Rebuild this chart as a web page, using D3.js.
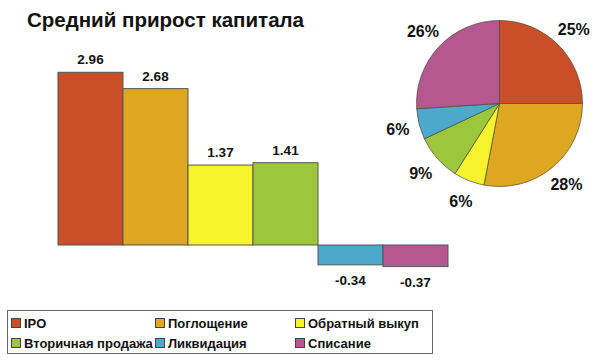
<!DOCTYPE html>
<html>
<head>
    <meta charset='utf-8'/>
    <title>Средний прирост капитала</title>
    <style>
        body { margin: 0; background: #fff; }
        text { font-family: "Liberation Sans", Arial, sans-serif; font-weight: bold; fill: #111; }
    </style>
</head>
<body>
<div id="chart"></div>
<script src="https://d3js.org/d3.v7.min.js"></script>
<script type="text/javascript">

    // data
    var categories = ["IPO", "Поглощение", "Обратный выкуп", "Вторичная продажа", "Ликвидация", "Списание"];
    var gains = [2.96, 2.68, 1.37, 1.41, -0.34, -0.37];
    var shares = [25, 28, 6, 9, 6, 26];
    var colors = ["#C84F28", "#DDA722", "#F6F22C", "#9CC63C", "#4BAACB", "#B6578F"];

    var svg = d3.select("#chart")
        .append("svg")
        .attr("width", 600)
        .attr("height", 360);

    // title
    svg.append("text")
        .attr("x", 27)
        .attr("y", 27)
        .style("font-size", "20.5px")
        .text("Средний прирост капитала");

    // bars
    var x = d3.scaleBand().domain(categories).range([58, 448]).padding(0);
    var y = d3.scaleLinear().domain([0, 2.96]).range([245, 72.3]);

    svg.append("g").selectAll("rect")
        .data(gains)
        .join("rect")
        .attr("x", (d, i) => x(categories[i]))
        .attr("y", d => y(Math.max(0, d)))
        .attr("width", x.bandwidth())
        .attr("height", d => Math.abs(y(d) - y(0)))
        .attr("fill", (d, i) => colors[i])
        .attr("stroke", "#555")
        .attr("stroke-width", 1);

    svg.append("g").selectAll("text")
        .data(gains)
        .join("text")
        .attr("x", (d, i) => x(categories[i]) + x.bandwidth() / 2)
        .attr("y", d => d >= 0 ? y(d) - 8 : y(d) + 20)
        .attr("text-anchor", "middle")
        .style("font-size", "13.5px")
        .text(d => d.toFixed(2));

    // pie
    var pie = d3.pie().sort(null).value(d => d);
    var arcs = pie(shares);
    var arc = d3.arc().innerRadius(0).outerRadius(83);
    var labelArc = d3.arc().innerRadius(105).outerRadius(105);

    var pg = svg.append("g")
        .attr("transform", "translate(499.5,103.5)");

    pg.selectAll("path")
        .data(arcs)
        .join("path")
        .attr("d", arc)
        .attr("fill", (d, i) => colors[i])
        .attr("stroke", "#4a4a3a")
        .attr("stroke-width", 0.7);

    pg.selectAll("text")
        .data(arcs)
        .join("text")
        .attr("transform", d => "translate(" + labelArc.centroid(d) + ")")
        .attr("text-anchor", "middle")
        .attr("dy", "0.36em")
        .style("font-size", "16px")
        .text(d => d.data + "%");

    // legend
    var legend = svg.append("g");
    legend.append("rect")
        .attr("x", 7.5)
        .attr("y", 310.5)
        .attr("width", 425)
        .attr("height", 43)
        .attr("fill", "none")
        .attr("stroke", "#666");

    var colX = [11, 155, 295];
    var rowY = [323, 343];

    var items = legend.selectAll("g.item")
        .data(categories)
        .join("g")
        .attr("class", "item")
        .attr("transform", (d, i) => "translate(" + colX[i % 3] + "," + rowY[Math.floor(i / 3)] + ")");

    items.append("rect")
        .attr("x", 0.5)
        .attr("y", -4.5)
        .attr("width", 9)
        .attr("height", 9)
        .attr("fill", (d, i) => colors[i])
        .attr("stroke", "#444");

    items.append("text")
        .attr("x", 13)
        .attr("dy", "0.36em")
        .style("font-size", "13px")
        .text(d => d);

</script>
</body>
</html>
